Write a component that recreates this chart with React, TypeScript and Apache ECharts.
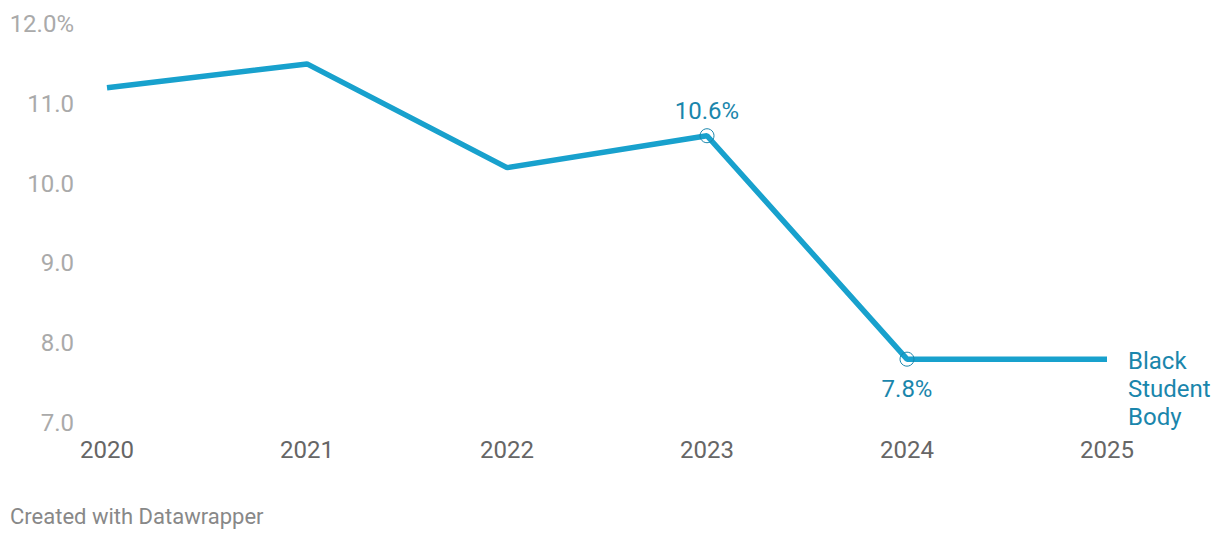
import React, { useEffect, useRef } from "react";
import * as echarts from "echarts";

const years = [2020, 2021, 2022, 2023, 2024, 2025];
const blackStudentBody = [11.2, 11.5, 10.2, 10.6, 7.8, 7.8];
const yTicks = [7, 8, 9, 10, 11, 12];
const seriesName = "Black Student Body";

export default function App() {
  const ref = useRef<HTMLDivElement>(null);
  useEffect(() => {
    if (!ref.current) return;
    const chart = echarts.init(ref.current, undefined, { renderer: "svg" });
    const line = "#18a1cd";
    const text = "#1a86ac";
    const data = years.map((y, i) => {
      const item: any = { value: [y, blackStudentBody[i]], symbol: "none" };
      if (i === 3 || i === 4) {
        item.symbol = "circle";
        item.symbolSize = 14;
        item.itemStyle = { color: "rgba(255,255,255,0)", borderColor: text, borderWidth: 1 };
        item.label = {
          show: true,
          position: i === 3 ? "top" : "bottom",
          distance: i === 3 ? 5 : 10,
          formatter: blackStudentBody[i].toFixed(1) + "%",
          color: text,
          fontSize: 24,
          fontFamily: "Roboto",
        };
      }
      return item;
    });
    chart.setOption({
      animation: false,
      grid: { left: 107, right: 113, top: 24, bottom: 117, containLabel: false },
      xAxis: {
        type: "value",
        min: 2020,
        max: 2025,
        interval: 1,
        axisLine: { show: false },
        axisTick: { show: false },
        splitLine: { show: false },
        axisLabel: {
          margin: 15,
          color: "#666",
          fontSize: 24,
          fontFamily: "Roboto",
          formatter: (v: number) => String(v),
        },
      },
      yAxis: {
        type: "value",
        min: yTicks[0],
        max: yTicks[yTicks.length - 1],
        interval: 1,
        axisLine: { show: false },
        axisTick: { show: false },
        splitLine: { show: false },
        axisLabel: {
          margin: 33,
          color: "#aaa",
          fontSize: 24,
          fontFamily: "Roboto",
          formatter: (v: number) => (v === 12 ? v.toFixed(1) + "%" : v.toFixed(1)),
        },
      },
      graphic: [
        {
          type: "text",
          left: 10,
          top: 505,
          style: {
            text: "Created with Datawrapper",
            fill: "#888",
            fontSize: 22,
            fontFamily: "Roboto",
          },
        },
      ],
      series: [
        {
          type: "line",
          name: seriesName,
          data,
          lineStyle: { color: line, width: 5.5 },
          itemStyle: { color: line },
          endLabel: {
            show: true,
            distance: 21,
            offset: [0, 30],
            formatter: seriesName.split(" ").join("\n"),
            color: text,
            fontSize: 24,
            lineHeight: 28,
            fontFamily: "Roboto",
          },
        },
      ],
    });
    return () => chart.dispose();
  }, []);
  return (
    <div
      ref={ref}
      style={{ position: "fixed", left: 0, top: 0, width: 1220, height: 540, background: "#fff" }}
    />
  );
}
